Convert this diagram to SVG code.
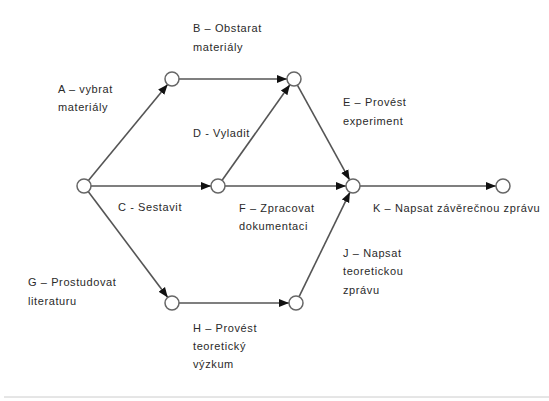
<svg xmlns="http://www.w3.org/2000/svg" width="549" height="401" viewBox="0 0 549 401">
<style>
.n{fill:#fff;stroke:#666;stroke-width:1.5}
.e{stroke:#555;stroke-width:1.6;fill:none;marker-end:url(#ah)}
text{font-family:"Liberation Sans",Arial,sans-serif;font-size:11px;fill:#2a2a2a;letter-spacing:0.6px}
</style>
<defs>
<marker id="ah" markerUnits="userSpaceOnUse" markerWidth="10" markerHeight="10" viewBox="0 0 10 10" refX="10" refY="5" orient="auto">
<path d="M0,1 L10,5 L0,9 Z" fill="#111"/>
</marker>
</defs>
<rect width="549" height="401" fill="#fff"/>
<g id="edges">
<line class="e" x1="88.4" y1="180.6" x2="167.6" y2="84.4"/>
<line class="e" x1="88.2" y1="191.6" x2="167.8" y2="297.4"/>
<line class="e" x1="91" y1="186" x2="211" y2="186"/>
<line class="e" x1="179" y1="79" x2="287" y2="79"/>
<line class="e" x1="222.1" y1="180.3" x2="289.9" y2="84.7"/>
<line class="e" x1="297.4" y1="85.1" x2="349.6" y2="179.9"/>
<line class="e" x1="225" y1="186" x2="346" y2="186"/>
<line class="e" x1="299.1" y1="296.7" x2="349.9" y2="192.3"/>
<line class="e" x1="360" y1="186" x2="496" y2="186"/>
<line class="e" x1="179" y1="303" x2="289" y2="303"/>
</g>
<g id="n0"><circle class="n" cx="84" cy="186" r="7"/></g>
<g id="n1"><circle class="n" cx="172" cy="79" r="7"/></g>
<g id="n2"><circle class="n" cx="294" cy="79" r="7"/></g>
<g id="n3"><circle class="n" cx="218" cy="186" r="7"/></g>
<g id="n4"><circle class="n" cx="353" cy="186" r="7"/></g>
<g id="n5"><circle class="n" cx="503" cy="186" r="7"/></g>
<g id="n6"><circle class="n" cx="172" cy="303" r="7"/></g>
<g id="n7"><circle class="n" cx="296" cy="303" r="7"/></g>
<g id="labels">
<text x="193" y="32">B – Obstarat</text>
<text x="193" y="51">materiály</text>
<text x="58" y="93">A – vybrat</text>
<text x="58" y="111">materiály</text>
<text x="193" y="137">D - Vyladit</text>
<text x="343" y="106">E – Provést</text>
<text x="343" y="125">experiment</text>
<text x="118" y="211">C - Sestavit</text>
<text x="239" y="212">F – Zpracovat</text>
<text x="239" y="230">dokumentaci</text>
<text x="373" y="212">K – Napsat závěrečnou zprávu</text>
<text x="343" y="257">J – Napsat</text>
<text x="343" y="275">teoretickou</text>
<text x="343" y="294">zprávu</text>
<text x="28" y="286">G – Prostudovat</text>
<text x="28" y="305">literaturu</text>
<text x="193" y="332">H – Provést</text>
<text x="193" y="350">teoretický</text>
<text x="193" y="368">výzkum</text>
</g>
<line x1="4" y1="397" x2="549" y2="397" stroke="#ccc" stroke-width="1"/>
</svg>
